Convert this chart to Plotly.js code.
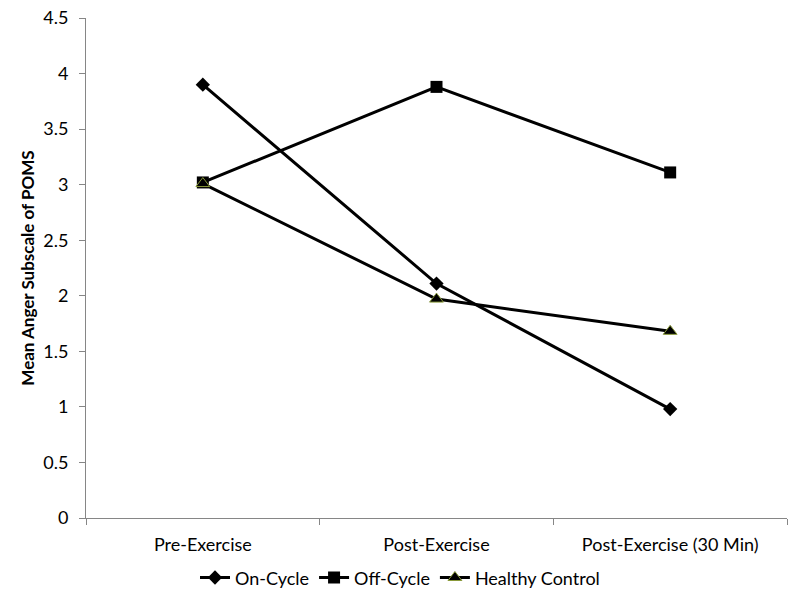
<!DOCTYPE html>
<html>
<head>
<meta charset="utf-8">
<script src="https://cdn.plot.ly/plotly-3.0.1.min.js"></script>
<style>html,body{margin:0;padding:0;background:#fff;}#chart{width:800px;height:600px;}</style>
</head>
<body>
<div id="chart"></div>
<script>
var categories = ["Pre-Exercise", "Post-Exercise", "Post-Exercise (30 Min)"];
var onCycle = [3.90, 2.11, 0.98];
var offCycle = [3.02, 3.88, 3.11];
var healthyControl = [3.01, 1.97, 1.68];
var yTickVals = [0, 0.5, 1, 1.5, 2, 2.5, 3, 3.5, 4, 4.5];
var yTickText = ["0", "0.5", "1", "1.5", "2", "2.5", "3", "3.5", "4", "4.5"];

var font = "Lato, 'Open Sans', sans-serif";

var traces = [
  {x: categories, y: onCycle, name: "On-Cycle", type: "scatter", mode: "lines+markers",
   line: {color: "#000", width: 3}, marker: {symbol: "diamond", size: 11, color: "#000"}},
  {x: categories, y: offCycle, name: "Off-Cycle", type: "scatter", mode: "lines+markers",
   line: {color: "#000", width: 3}, marker: {symbol: "square", size: 12, color: "#000"}},
  {x: categories, y: healthyControl, name: "Healthy Control", type: "scatter", mode: "lines+markers",
   line: {color: "#000", width: 3}, marker: {symbol: "triangle-up", size: 12, color: "#000", line: {color: "#8a9a3a", width: 1}}}
];

var layout = {
  width: 800, height: 600,
  margin: {l: 86, r: 13, t: 18, b: 82, autoexpand: false},
  paper_bgcolor: "#fff", plot_bgcolor: "#fff",
  font: {family: font, size: 18, color: "#000"},
  showlegend: true,
  legend: {orientation: "h", x: 0.5, xanchor: "center", xref: "container",
           y: 0.037, yanchor: "middle", yref: "container",
           font: {family: font, size: 18, color: "#000"}, itemwidth: 30, tracegroupgap: 0},
  xaxis: {type: "category", range: [-0.5, 2.5], showgrid: false, zeroline: false,
          showline: true, linecolor: "#868686", linewidth: 1,
          ticks: "outside", tickson: "boundaries", ticklen: 6, tickcolor: "#868686",
          ticklabelstandoff: 10,
          tickfont: {family: font, size: 18, color: "#000"}, fixedrange: true},
  yaxis: {range: [0, 4.5], tickvals: yTickVals, ticktext: yTickText, showgrid: false, zeroline: false,
          showline: true, linecolor: "#868686", linewidth: 1,
          ticks: "outside", ticklen: 6, tickcolor: "#868686",
          ticklabelstandoff: 7,
          tickfont: {family: font, size: 18, color: "#000"},
          title: {text: "<b>Mean Anger Subscale of POMS</b>", font: {family: font, size: 17, color: "#000"}, standoff: 4}}
};

Plotly.newPlot("chart", traces, layout, {displayModeBar: false, staticPlot: true});
</script>
</body>
</html>
